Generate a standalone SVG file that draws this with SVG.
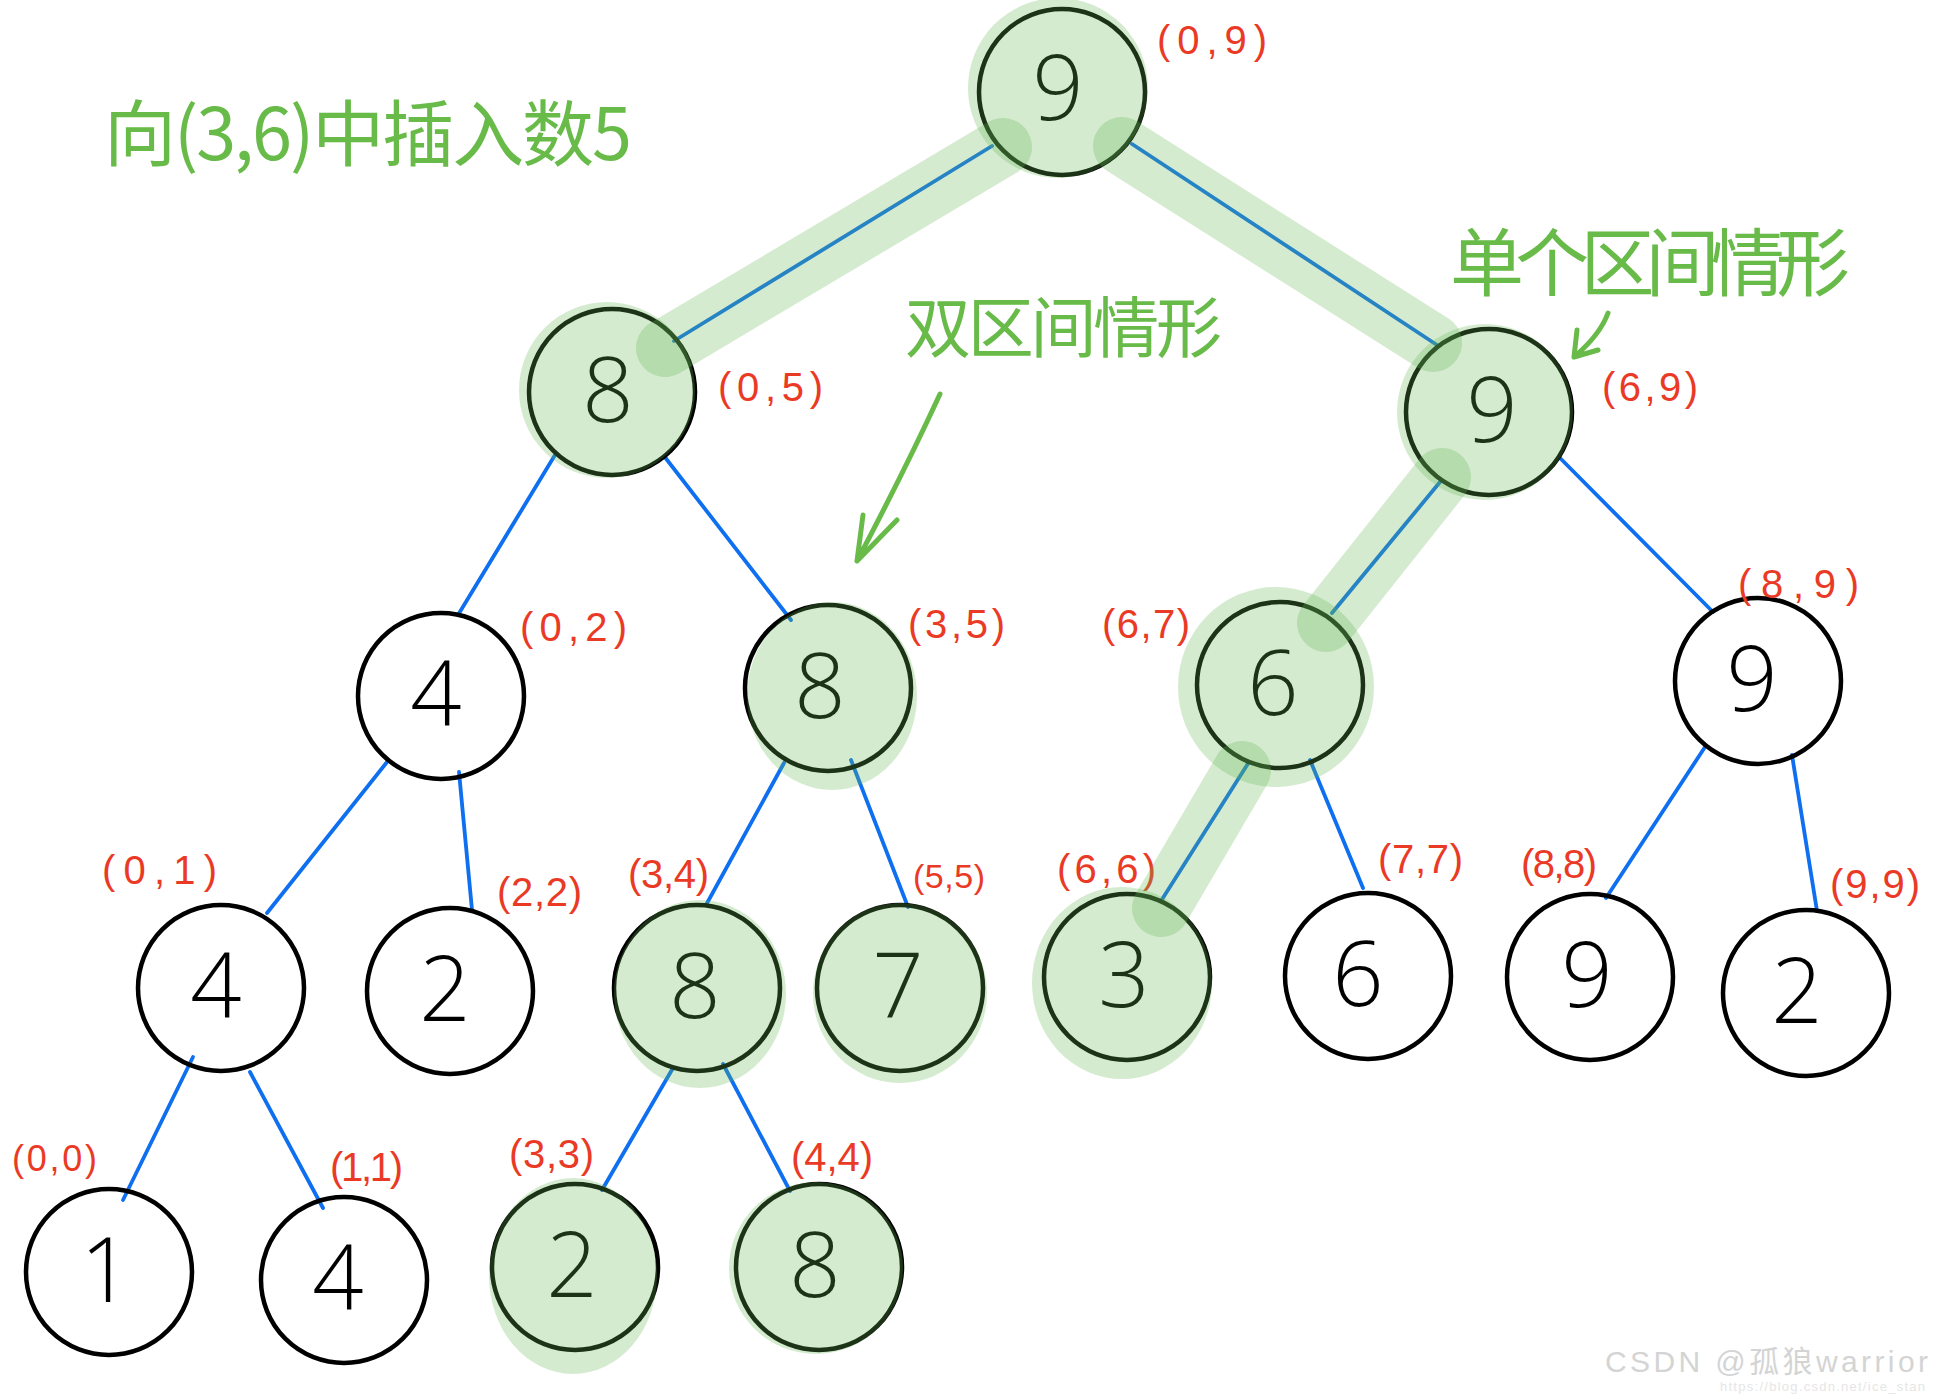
<svg xmlns="http://www.w3.org/2000/svg" width="1933" height="1395" viewBox="0 0 1933 1395">
<style>
.node circle{fill:none;stroke:#000;stroke-width:4.5}
.digit{font-family:"Open Sans","Liberation Sans",Arial,sans-serif;font-weight:300;font-size:90px;fill:#000;text-anchor:middle}
.lbl{font-family:"Liberation Sans",Arial,sans-serif;font-size:40px;fill:#ea3a26}
.edge{stroke:#0e6ff0;stroke-width:3.8;fill:none;stroke-linecap:round}
.blob{fill:#66b854;fill-opacity:0.28}
.band{stroke:#66b854;stroke-opacity:0.28;stroke-width:58;stroke-linecap:round;fill:none}
.note{font-family:"Noto Sans CJK SC","Noto Sans CJK JP",sans-serif;fill:#68bb48}
.arrow{stroke:#68bb48;stroke-width:5;fill:none;stroke-linecap:round;stroke-linejoin:round}
.wm{font-family:"Liberation Sans","Noto Sans CJK SC",sans-serif}
</style>
<rect width="1933" height="1395" fill="#fff"/>
<g id="connectors">
<line class="edge" x1="992" y1="146" x2="674" y2="341"/>
<line class="edge" x1="1132" y1="144" x2="1437" y2="345"/>
<line class="edge" x1="555" y1="455" x2="458" y2="615"/>
<line class="edge" x1="664" y1="456" x2="791" y2="620"/>
<line class="edge" x1="1440" y1="482" x2="1332" y2="613"/>
<line class="edge" x1="1560" y1="458" x2="1713" y2="612"/>
<line class="edge" x1="387" y1="762" x2="267" y2="913"/>
<line class="edge" x1="459" y1="772" x2="472" y2="910"/>
<line class="edge" x1="784" y1="763" x2="706" y2="905"/>
<line class="edge" x1="851" y1="760" x2="908" y2="907"/>
<line class="edge" x1="1249" y1="762" x2="1161" y2="901"/>
<line class="edge" x1="1310" y1="760" x2="1363" y2="888"/>
<line class="edge" x1="1705" y1="747" x2="1606" y2="898"/>
<line class="edge" x1="1792" y1="755" x2="1817" y2="911"/>
<line class="edge" x1="193" y1="1057" x2="123" y2="1200"/>
<line class="edge" x1="250" y1="1072" x2="323" y2="1208"/>
<line class="edge" x1="673" y1="1068" x2="602" y2="1190"/>
<line class="edge" x1="723" y1="1064" x2="790" y2="1191"/>
</g>
<g id="n0" class="node"><circle cx="1062" cy="92" r="83"/><text class="digit" x="1058" y="120">9</text><text class="lbl" x="1157" y="54" textLength="110" lengthAdjust="spacing">(0,9)</text></g>
<g id="n1" class="node"><circle cx="612" cy="392" r="83"/><text class="digit" x="608" y="422">8</text><text class="lbl" x="718" y="401" textLength="105" lengthAdjust="spacing">(0,5)</text></g>
<g id="n2" class="node"><circle cx="1489" cy="412" r="83"/><text class="digit" x="1492" y="442">9</text><text class="lbl" x="1602" y="401" textLength="96" lengthAdjust="spacing">(6,9)</text></g>
<g id="n3" class="node"><circle cx="441" cy="696" r="83"/><text class="digit" x="436" y="726">4</text><text class="lbl" x="520" y="641" textLength="107" lengthAdjust="spacing">(0,2)</text></g>
<g id="n4" class="node"><circle cx="828" cy="688" r="83"/><text class="digit" x="820" y="718">8</text><text class="lbl" x="908" y="638" textLength="97" lengthAdjust="spacing">(3,5)</text></g>
<g id="n5" class="node"><circle cx="1280" cy="685" r="83"/><text class="digit" x="1273" y="715">6</text><text class="lbl" x="1102" y="638" textLength="88" lengthAdjust="spacing">(6,7)</text></g>
<g id="n6" class="node"><circle cx="1758" cy="681" r="83"/><text class="digit" x="1752" y="711">9</text><text class="lbl" x="1738" y="598" textLength="121" lengthAdjust="spacing">(8,9)</text></g>
<g id="n7" class="node"><circle cx="221" cy="988" r="83"/><text class="digit" x="216" y="1018">4</text><text class="lbl" x="102" y="884" textLength="115" lengthAdjust="spacing">(0,1)</text></g>
<g id="n8" class="node"><circle cx="450" cy="991" r="83"/><text class="digit" x="445" y="1021">2</text><text class="lbl" x="497" y="906" textLength="85" lengthAdjust="spacing">(2,2)</text></g>
<g id="n9" class="node"><circle cx="697" cy="988" r="83"/><text class="digit" x="695" y="1018">8</text><text class="lbl" x="628" y="888" textLength="81" lengthAdjust="spacing">(3,4)</text></g>
<g id="n10" class="node"><circle cx="900" cy="988" r="83"/><text class="digit" x="898" y="1018">7</text><text class="lbl" x="913" y="888" textLength="72" lengthAdjust="spacing" style="font-size:34px">(5,5)</text></g>
<g id="n11" class="node"><circle cx="1127" cy="977" r="83"/><text class="digit" x="1124" y="1007">3</text><text class="lbl" x="1057" y="883" textLength="99" lengthAdjust="spacing">(6,6)</text></g>
<g id="n12" class="node"><circle cx="1368" cy="976" r="83"/><text class="digit" x="1358" y="1006">6</text><text class="lbl" x="1378" y="873" textLength="85" lengthAdjust="spacing">(7,7)</text></g>
<g id="n13" class="node"><circle cx="1590" cy="977" r="83"/><text class="digit" x="1587" y="1007">9</text><text class="lbl" x="1521" y="878" textLength="76" lengthAdjust="spacing">(8,8)</text></g>
<g id="n14" class="node"><circle cx="1806" cy="993" r="83"/><text class="digit" x="1797" y="1023">2</text><text class="lbl" x="1830" y="898" textLength="90" lengthAdjust="spacing">(9,9)</text></g>
<g id="n15" class="node"><circle cx="109" cy="1272" r="83"/><text class="digit" x="106" y="1302">1</text><text class="lbl" x="12" y="1171" textLength="85" lengthAdjust="spacing" style="font-size:36px">(0,0)</text></g>
<g id="n16" class="node"><circle cx="344" cy="1280" r="83"/><text class="digit" x="338" y="1310">4</text><text class="lbl" x="330" y="1181" textLength="73" lengthAdjust="spacing">(1,1)</text></g>
<g id="n17" class="node"><circle cx="575" cy="1267" r="83"/><text class="digit" x="572" y="1297">2</text><text class="lbl" x="509" y="1168" textLength="85" lengthAdjust="spacing">(3,3)</text></g>
<g id="n18" class="node"><circle cx="819" cy="1267" r="83"/><text class="digit" x="815" y="1297">8</text><text class="lbl" x="791" y="1171" textLength="82" lengthAdjust="spacing">(4,4)</text></g>
<g id="highlight">
<circle class="blob" cx="1058" cy="88" r="90"/>
<circle class="blob" cx="607" cy="390" r="88"/>
<circle class="blob" cx="1485" cy="412" r="88"/>
<ellipse class="blob" cx="832" cy="696" rx="85" ry="94"/>
<ellipse class="blob" cx="1276" cy="687" rx="98" ry="100"/>
<ellipse class="blob" cx="700" cy="994" rx="86" ry="94"/>
<ellipse class="blob" cx="900" cy="993" rx="87" ry="90"/>
<ellipse class="blob" cx="1122" cy="983" rx="90" ry="96"/>
<ellipse class="blob" cx="573" cy="1276" rx="84" ry="98"/>
<ellipse class="blob" cx="816" cy="1268" rx="87" ry="86"/>
<line class="band" x1="1003" y1="147" x2="665" y2="348"/>
<line class="band" x1="1122" y1="146" x2="1433" y2="343"/>
<line class="band" x1="1442" y1="477" x2="1326" y2="623"/>
<line class="band" x1="1242" y1="770" x2="1161" y2="908"/>
</g>
<g id="notes">
<text class="note" x="104" y="160" font-size="72" textLength="528" lengthAdjust="spacing">向(3,6)中插入数5</text>
<text class="note" x="905" y="352" font-size="66" textLength="317" lengthAdjust="spacing">双区间情形</text>
<text class="note" x="1450" y="290" font-size="74" textLength="400" lengthAdjust="spacing">单个区间情形</text>
<path class="arrow" d="M940 394 Q905 470 857 561 M863 515 L857 561 L897 520"/>
<path class="arrow" d="M1608 313 Q1600 335 1574 357 M1577 330 L1574 357 L1598 350"/>
</g>
<g id="watermark">
<text class="wm" x="1605" y="1372" font-size="30" fill="#d4d4d4" textLength="323" lengthAdjust="spacing">CSDN @孤狼warrior</text>
<text class="wm" x="1720" y="1391" font-size="13" fill="#e6e6e6" textLength="205" lengthAdjust="spacing">https://blog.csdn.net/ice_stan</text>
</g>
</svg>
